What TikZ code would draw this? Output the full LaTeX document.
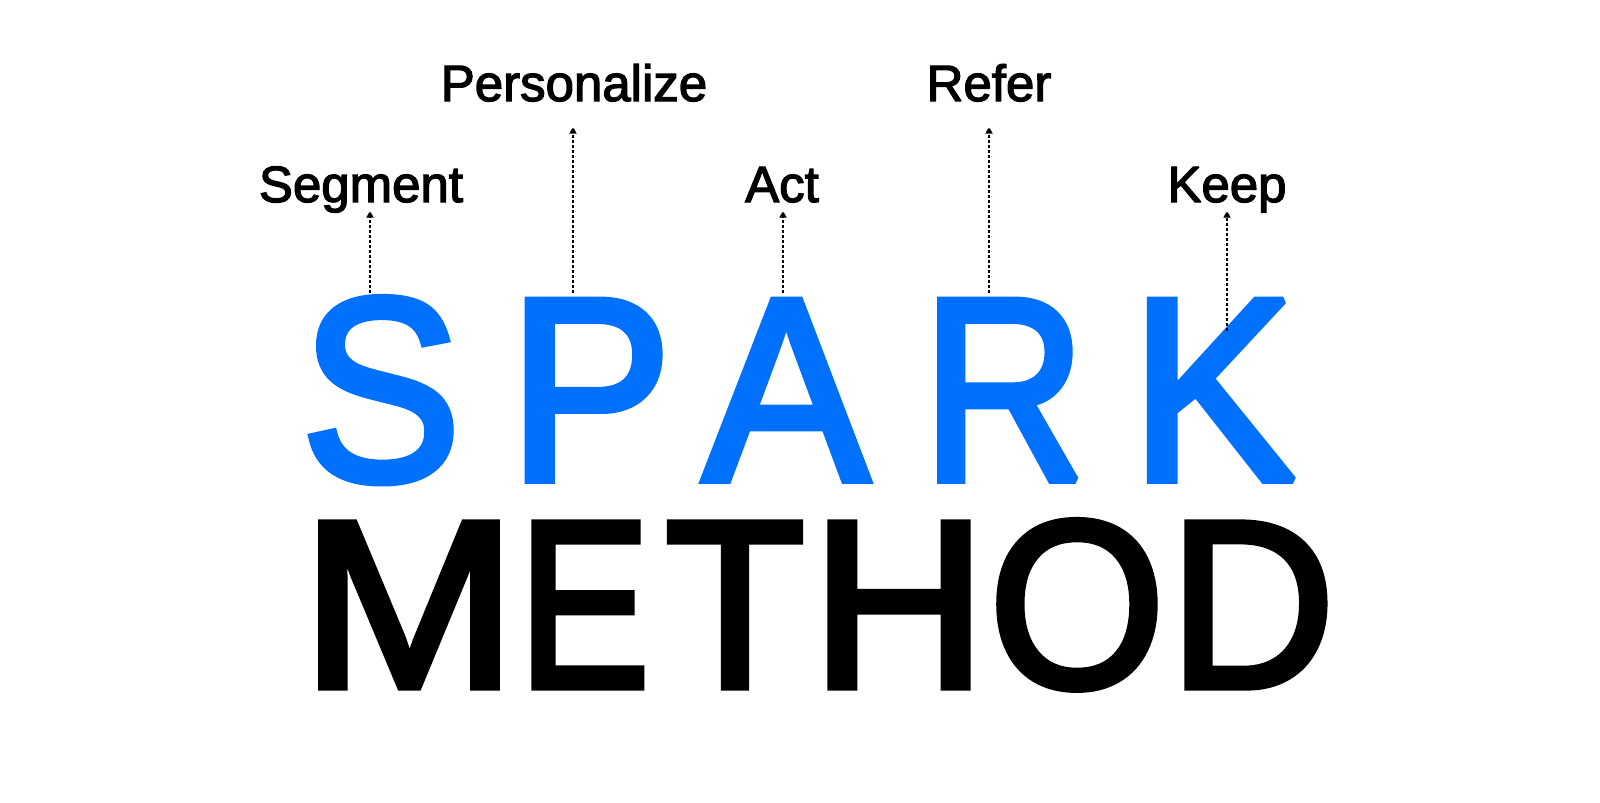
\documentclass[tikz,border=0pt]{standalone}
\usepackage{fontspec}
\setmainfont{Liberation Sans}
\newfontfamily\sparkfont[FakeBold=3]{Liberation Sans}
\newfontfamily\stagefont[FakeBold=2.5]{Liberation Sans}
\usetikzlibrary{arrows.meta}
\definecolor{sparkblue}{HTML}{0070FF}
% narrow or widen one big letter
\newcommand{\glyphw}[2]{\scalebox{#1}[1]{#2}}

\begin{document}
\begin{tikzpicture}[x=0.01cm,y=-0.01cm,miter limit=2,
    spark/.style={anchor=base,inner sep=0pt,text=sparkblue,miter limit=2,
        font=\sparkfont\fontsize{74.2}{74.2}\selectfont},
    method/.style={anchor=base,inner sep=0pt,text=black,miter limit=2,
        font=\sparkfont\fontsize{67.8}{67.8}\selectfont},
    stage/.style={anchor=base,inner xsep=0pt,text depth=0pt,miter limit=2,
        font=\stagefont\fontsize{14.5}{14.5}\selectfont},
    lead/.style={-{Triangle[width=0.07cm,length=0.07cm]},
        line width=0.5pt,dash pattern=on 0.03cm off 0.02cm}]
    \fill[white] (0,0) rectangle (1600,802);
    \useasboundingbox (0,0) rectangle (1600,802);

    % SPARK
    \node[spark] (s) at (381,480) {\glyphw{0.92}{S}};
    \node[spark] (p) at (590,480) {\glyphw{0.94}{P}};
    \node[spark] (a) at (786,480) {\glyphw{0.95}{A}};
    \node[spark] (r) at (1004,480) {\glyphw{0.87}{R}};
    \node[spark] (k) at (1213,480) {\glyphw{0.95}{K}};

    % METHOD
    \node[method] (m1) at (409,687) {\glyphw{1.09}{M}};
    \node[method] (e1) at (584,687) {\glyphw{0.83}{E}};
    \node[method] (t1) at (735,687) {\glyphw{0.96}{T}};
    \node[method] (h1) at (899,687) {\glyphw{1.02}{H}};
    \node[method] (o1) at (1077,687) {\glyphw{0.95}{O}};
    \node[method] (d1) at (1252,687) {\glyphw{0.965}{D}};

    % stages
    \node[stage,inner ysep=0.08cm] (segment) at (361,202) {Segment};
    \node[stage,inner ysep=0.25cm] (personalize) at (574,101) {Personalize};
    \node[stage,inner ysep=0.08cm] (act) at (782,202) {Act};
    \node[stage,inner ysep=0.25cm] (refer) at (989,101) {Refer};
    \node[stage,inner ysep=0.08cm] (keep) at (1227,202) {Keep};

    % leads from the letters
    \coordinate (sTop) at (370,293);
    \coordinate (pTop) at (573,293);
    \coordinate (aTop) at (783,293);
    \coordinate (rTop) at (989,293);
    \coordinate (kTop) at (1227,331);
    \draw[lead] (sTop) -- (sTop |- segment.south);
    \draw[lead] (pTop) -- (pTop |- personalize.south);
    \draw[lead] (aTop) -- (aTop |- act.south);
    \draw[lead] (rTop) -- (rTop |- refer.south);
    \draw[lead] (kTop) -- (kTop |- keep.south);
\end{tikzpicture}
\end{document}
